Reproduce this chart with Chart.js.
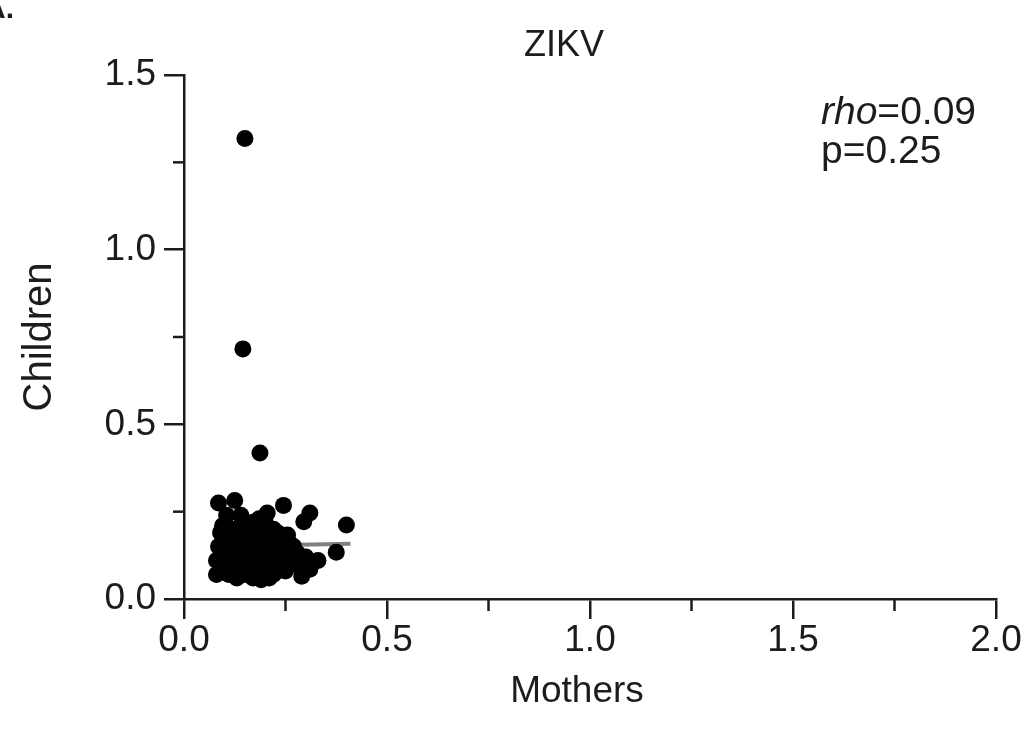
<!DOCTYPE html>
<html>
<head>
<meta charset="utf-8">
<script src="https://cdn.jsdelivr.net/npm/chart.js@4.4.1/dist/chart.umd.min.js"></script>
<style>
  html, body { margin: 0; padding: 0; background: #fff; }
  #wrap { width: 1024px; height: 745px; }
</style>
</head>
<body>
<div id="wrap"><canvas id="chart" width="1024" height="745"></canvas></div>
<script>
// values (Mothers on x, Children on y)
const mothers = [
    0.150, 0.145, 0.187,
    0.085, 0.125, 0.105, 0.245, 0.205, 0.310, 0.295, 0.400, 0.375, 0.255,
    0.140, 0.170, 0.190, 0.160, 0.120, 0.090, 0.100, 0.130, 0.150, 0.180,
    0.210, 0.230, 0.220, 0.240, 0.270, 0.280, 0.300, 0.310, 0.290, 0.260,
    0.250, 0.230, 0.210, 0.200, 0.180, 0.160, 0.140, 0.120, 0.100, 0.085,
    0.080, 0.090, 0.080, 0.110, 0.120, 0.140, 0.150, 0.170, 0.190, 0.200,
    0.180, 0.160, 0.130, 0.220, 0.240, 0.260, 0.190, 0.170, 0.150, 0.110,
    0.200, 0.220, 0.180, 0.130, 0.200, 0.270, 0.120, 0.095, 0.140, 0.185,
    0.165, 0.330, 0.310, 0.290,
    0.100, 0.110, 0.130, 0.150, 0.170, 0.190, 0.210, 0.230, 0.250, 0.270,
    0.240, 0.210, 0.190, 0.160, 0.140, 0.120, 0.100, 0.090, 0.260, 0.280,
    0.160, 0.210, 0.130, 0.100
];
const children = [
    1.318, 0.716, 0.418,
    0.275, 0.282, 0.240, 0.268, 0.246, 0.246, 0.221, 0.212, 0.134, 0.183,
    0.210, 0.220, 0.200, 0.190, 0.200, 0.190, 0.170, 0.160, 0.170, 0.170,
    0.180, 0.190, 0.160, 0.150, 0.150, 0.130, 0.120, 0.100, 0.090, 0.110,
    0.080, 0.100, 0.120, 0.140, 0.130, 0.120, 0.130, 0.140, 0.130, 0.150,
    0.110, 0.090, 0.070, 0.070, 0.100, 0.090, 0.070, 0.060, 0.055, 0.080,
    0.090, 0.100, 0.080, 0.070, 0.120, 0.130, 0.110, 0.150, 0.140, 0.160,
    0.170, 0.200, 0.190, 0.190, 0.220, 0.100, 0.120, 0.210, 0.240, 0.230,
    0.095, 0.110, 0.085, 0.065,
    0.110, 0.090, 0.110, 0.110, 0.110, 0.070, 0.100, 0.080, 0.100, 0.120,
    0.170, 0.150, 0.160, 0.160, 0.150, 0.170, 0.150, 0.120, 0.160, 0.110,
    0.080, 0.060, 0.060, 0.080
];
// fitted line ends
const fitX = [0.07, 0.41];
const fitY = [0.150, 0.158];

const xTicks = [0, 0.5, 1.0, 1.5, 2.0];
const yTicks = [0, 0.5, 1.0, 1.5];
const titleText = 'ZIKV';
const xLabel = 'Mothers';
const yLabel = 'Children';
const rhoText = '=0.09';
const pText = 'p=0.25';

const ink = '#1c1c1c';
const FONT = '"Liberation Sans", Arial, sans-serif';

const points = mothers.map((m, i) => ({ x: m, y: children[i] }));
const fitPoints = fitX.map((v, i) => ({ x: v, y: fitY[i] }));

// minor ticks, title, x label, annotation, panel letter
const extras = {
    id: 'extras',
    afterDraw(chart) {
        const ctx = chart.ctx;
        const xs = chart.scales.x, ys = chart.scales.y;
        const area = chart.chartArea;
        ctx.save();
        ctx.strokeStyle = ink;
        ctx.lineWidth = 2.5;
        for (let v = 0.25; v < 2; v += 0.5) {
            const px = xs.getPixelForValue(v);
            ctx.beginPath();
            ctx.moveTo(px, area.bottom);
            ctx.lineTo(px, area.bottom + 12);
            ctx.stroke();
        }
        for (let v = 0.25; v < 1.5; v += 0.5) {
            const py = ys.getPixelForValue(v);
            ctx.beginPath();
            ctx.moveTo(area.left, py);
            ctx.lineTo(area.left - 11, py);
            ctx.stroke();
        }

        ctx.fillStyle = ink;
        ctx.textBaseline = 'alphabetic';
        ctx.textAlign = 'center';
        ctx.font = '36px ' + FONT;
        ctx.fillText(titleText, 564, 56);

        ctx.font = '37px ' + FONT;
        ctx.fillText(xLabel, 577, 702);

        ctx.textAlign = 'left';
        ctx.font = 'italic 39px ' + FONT;
        const ax = 821;
        ctx.fillText('rho', ax, 124);
        const w = ctx.measureText('rho').width;
        ctx.font = '39px ' + FONT;
        ctx.fillText(rhoText, ax + w, 124);
        ctx.fillText(pText, ax, 163);

        ctx.font = 'bold 30px ' + FONT;
        ctx.fillText('A.', -16, 18);
        ctx.restore();
    }
};

new Chart(document.getElementById('chart').getContext('2d'), {
    type: 'scatter',
    data: {
        datasets: [
            {
                label: 'children',
                data: points,
                backgroundColor: '#000',
                borderColor: '#000',
                pointRadius: 8.5,
                pointHoverRadius: 8.5,
                borderWidth: 0,
                order: 1
            },
            {
                type: 'line',
                label: 'fit',
                data: fitPoints,
                borderColor: '#808080',
                borderWidth: 4,
                pointRadius: 0,
                fill: false,
                order: 2
            }
        ]
    },
    options: {
        responsive: false,
        animation: false,
        layout: { padding: { left: 0, right: 28, top: 75, bottom: 0 } },
        plugins: {
            legend: { display: false },
            tooltip: { enabled: false },
            title: { display: false }
        },
        scales: {
            x: {
                type: 'linear',
                min: 0,
                max: 2,
                afterFit: s => { s.height = 146; },
                afterBuildTicks: s => { s.ticks = xTicks.map(v => ({ value: v })); },
                ticks: {
                    color: ink,
                    font: { family: FONT, size: 37 },
                    padding: 0,
                    maxRotation: 0,
                    callback: v => v.toFixed(1)
                },
                grid: { drawOnChartArea: false, drawTicks: true, tickLength: 20, color: ink, lineWidth: 2.5 },
                border: { display: true, color: ink, width: 2.5 },
                title: { display: false }
            },
            y: {
                type: 'linear',
                min: 0,
                max: 1.5,
                afterFit: s => { s.width = 184; },
                afterBuildTicks: s => { s.ticks = yTicks.map(v => ({ value: v })); },
                ticks: {
                    color: ink,
                    font: { family: FONT, size: 37 },
                    padding: 8,
                    callback: v => v.toFixed(1)
                },
                grid: { drawOnChartArea: false, drawTicks: true, tickLength: 20, color: ink, lineWidth: 2.5 },
                border: { display: true, color: ink, width: 2.5 },
                title: {
                    display: true,
                    text: yLabel,
                    color: ink,
                    font: { family: FONT, size: 40 },
                    padding: { top: 16, bottom: 0 }
                }
            }
        }
    },
    plugins: [extras]
});
</script>
</body>
</html>
